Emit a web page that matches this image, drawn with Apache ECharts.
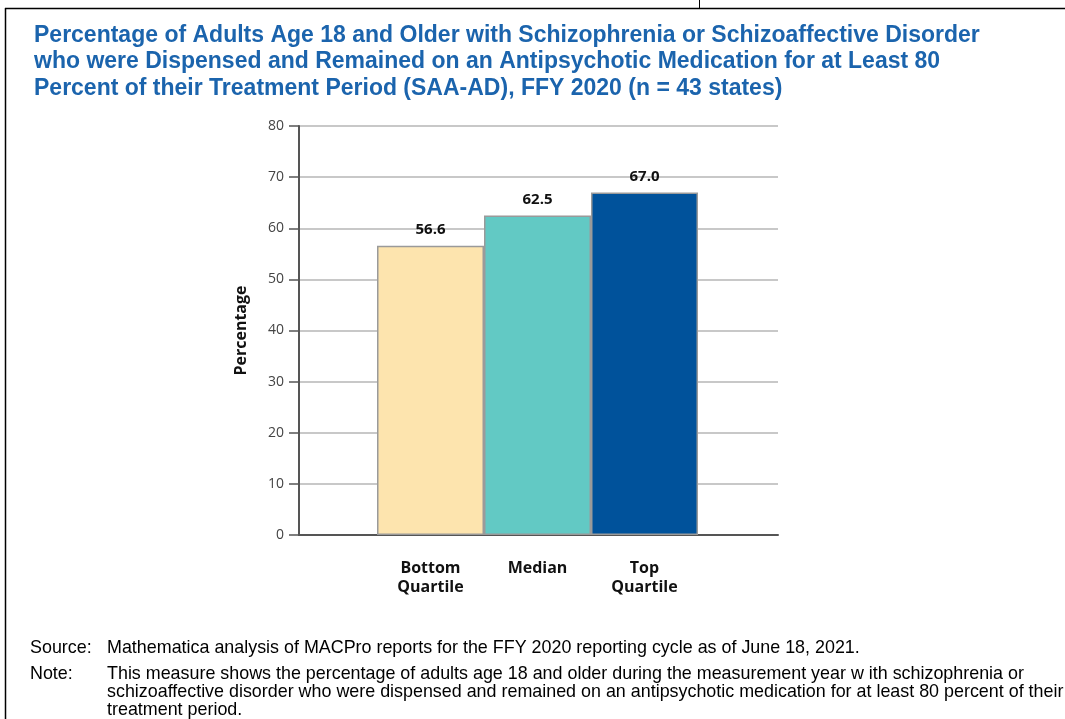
<!DOCTYPE html>
<html>
<head>
<meta charset="utf-8">
<script src="https://cdn.jsdelivr.net/npm/echarts@6/dist/echarts.min.js"></script>
<style>
  html, body { margin: 0; padding: 0; background: #fff; }
  #chart { width: 1065px; height: 719px; }
</style>
</head>
<body>
<div id="chart"></div>
<script>
// data
var categories = ['Bottom\nQuartile', 'Median', 'Top\nQuartile'];
var values = [56.6, 62.5, 67.0];
var barColors = ['#fde4ae', '#62c9c4', '#00529b'];
var yMin = 0, yMax = 80, yStep = 10;

var titleText = 'Percentage of Adults Age 18 and Older with Schizophrenia or Schizoaffective Disorder\n' +
    'who were Dispensed and Remained on an Antipsychotic Medication for at Least 80\n' +
    'Percent of their Treatment Period (SAA-AD), FFY 2020 (n = 43 states)';
var sourceText = 'Mathematica analysis of MACPro reports for the FFY 2020 reporting cycle as of June 18, 2021.';
var noteText = 'This measure shows the percentage of adults age 18 and older during the measurement year w ith schizophrenia or\n' +
    'schizoaffective disorder who were dispensed and remained on an antipsychotic medication for at least 80 percent of their\n' +
    'treatment period.';

var chart = echarts.init(document.getElementById('chart'))

var footStyle = { fontFamily: 'Liberation Sans', fontSize: 17.9, fill: '#000', lineHeight: 18 }

var option = {
    animation: false,
    title: {
        text: titleText,
        left: 29,
        top: 17,
        textStyle: {
            fontFamily: 'Liberation Sans',
            fontWeight: 'bold',
            fontSize: 23,
            lineHeight: 26.5,
            color: '#1b64ad'
        }
    },
    graphic: [
        // page frame
        { type: 'line', shape: { x1: 5, y1: 8.5, x2: 1065, y2: 8.5 }, style: { stroke: '#000', lineWidth: 1.5 } },
        { type: 'line', shape: { x1: 5.5, y1: 8, x2: 5.5, y2: 719 }, style: { stroke: '#000', lineWidth: 1.5 } },
        { type: 'line', shape: { x1: 699.5, y1: 0, x2: 699.5, y2: 8 }, style: { stroke: '#000', lineWidth: 1 } },
        { type: 'text', left: 30, top: 639, style: Object.assign({ text: 'Source:' }, footStyle) },
        { type: 'text', left: 107, top: 639, style: Object.assign({ text: sourceText }, footStyle) },
        { type: 'text', left: 30, top: 665, style: Object.assign({ text: 'Note:' }, footStyle) },
        { type: 'text', left: 107, top: 665, style: Object.assign({ text: noteText }, footStyle) }
    ],
    grid: [
        { left: 299, top: 126, width: 479, height: 409 },
        { left: 377, top: 126, width: 321, height: 409 }
    ],
    xAxis: [
        {
            gridIndex: 0,
            type: 'category',
            data: [''],
            axisLine: { lineStyle: { color: '#555', width: 2 } },
            axisTick: { show: false },
            axisLabel: { show: false }
        },
        {
            gridIndex: 1,
            type: 'category',
            data: categories,
            axisLine: { show: false },
            axisTick: { show: false },
            axisLabel: {
                margin: 24,
                fontFamily: 'Open Sans',
                fontWeight: 'bold',
                fontSize: 16,
                lineHeight: 19,
                color: '#111'
            }
        }
    ],
    yAxis: [
        {
            gridIndex: 0,
            type: 'value',
            min: yMin,
            max: yMax,
            interval: yStep,
            name: 'Percentage',
            nameLocation: 'middle',
            nameGap: 50,
            nameRotate: 90,
            nameTextStyle: { fontFamily: 'Open Sans', fontWeight: 'bold', fontSize: 16, color: '#111' },
            axisLine: { show: true, lineStyle: { color: '#555', width: 2 } },
            axisTick: { show: true, length: 10, lineStyle: { color: '#555', width: 1.5 } },
            axisLabel: { margin: 15, fontFamily: 'Open Sans', fontSize: 14, color: '#444' },
            splitLine: { lineStyle: { color: '#c8c8c8', width: 2 } }
        },
        {
            gridIndex: 1,
            type: 'value',
            min: yMin,
            max: yMax,
            interval: yStep,
            show: false,
            splitLine: { show: false }
        }
    ],
    series: [
        {
            type: 'bar',
            xAxisIndex: 1,
            yAxisIndex: 1,
            barWidth: 107,
            data: values.map(function (v, i) {
                return { value: v, itemStyle: { color: barColors[i] } }
            }),
            itemStyle: { borderColor: '#9a9a9a', borderWidth: 1.5 },
            label: {
                show: true,
                position: 'top',
                distance: 8,
                formatter: function (p) { return p.value.toFixed(1) },
                fontFamily: 'Open Sans',
                fontWeight: 'bold',
                fontSize: 15,
                color: '#111'
            }
        }
    ]
};
chart.setOption(option)
</script>
</body>
</html>
